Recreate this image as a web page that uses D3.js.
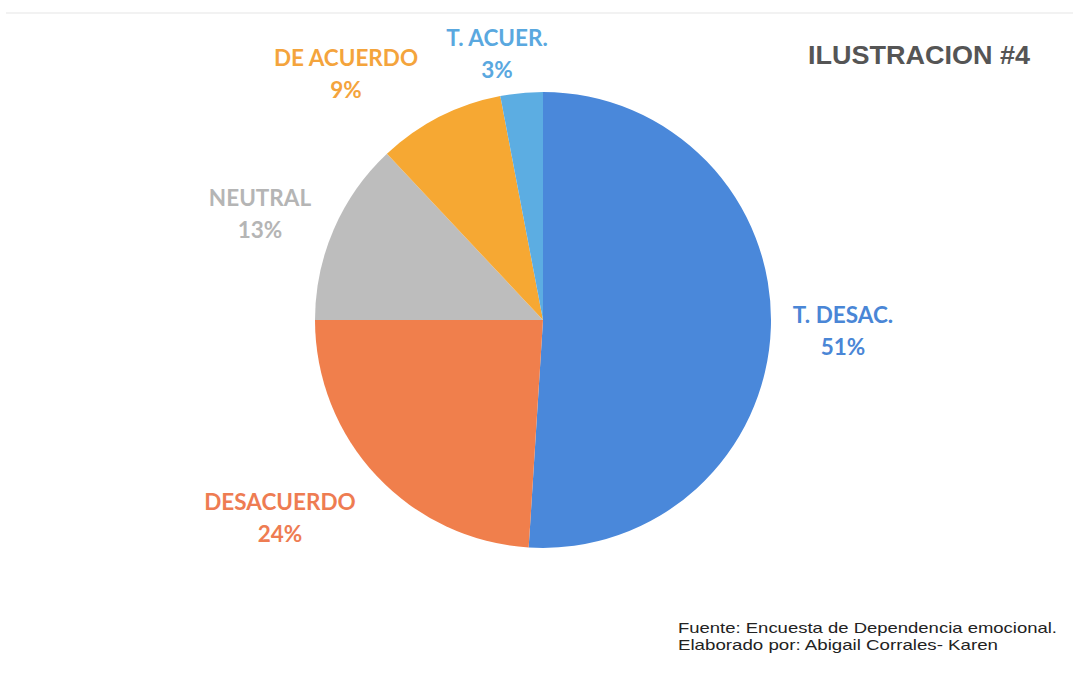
<!DOCTYPE html>
<html><head><meta charset="utf-8">
<script src="https://cdn.jsdelivr.net/npm/d3@7"></script>
<style>body{margin:0;background:#fff}svg{display:block}</style>
</head><body>
<svg id="c" width="1073" height="681"></svg>
<script>
const categories = ["T. DESAC.", "DESACUERDO", "NEUTRAL", "DE ACUERDO", "T. ACUER."];
const values = [51, 24, 13, 9, 3];
const colors = ["#4a88da", "#f07f4c", "#bdbdbd", "#f6a833", "#5cade2"];
const textColors = ["#4a86d6", "#ee7c52", "#b5b5b5", "#f4a43c", "#5aa8df"];
const labelPos = [[843, 315], [280, 502], [260, 198], [346, 58], [497, 38]];
const footerLines = ["Fuente: Encuesta de Dependencia emocional.", "Elaborado por: Abigail Corrales- Karen"];

const svg = d3.select("#c");
svg.append("line").attr("x1", 6).attr("x2", 1073).attr("y1", 13).attr("y2", 13)
  .attr("stroke", "#eeeeee").attr("stroke-width", 1.5);

const cx = 543, cy = 320, r = 228;
const pie = d3.pie().sort(null).value(d => d)(values);
const arc = d3.arc().innerRadius(0).outerRadius(r);
const g = svg.append("g").attr("transform", `translate(${cx},${cy})`);
g.selectAll("path").data(pie).join("path")
  .attr("d", arc).attr("fill", (d, i) => colors[i]);

const lab = svg.append("g").attr("font-family", "Lato, 'Open Sans', sans-serif")
  .attr("font-weight", "bold").attr("font-size", 22.5).attr("text-anchor", "middle");
categories.forEach((c, i) => {
  const t = lab.append("text").attr("x", labelPos[i][0]).attr("y", labelPos[i][1] + 8).attr("fill", textColors[i]);
  t.append("tspan").attr("x", labelPos[i][0]).text(c);
  t.append("tspan").attr("x", labelPos[i][0]).attr("dy", 32).text(values[i] + "%");
});

svg.append("text").attr("x", 808).attr("y", 64).attr("font-family", "Liberation Sans, Arial, sans-serif")
  .attr("font-weight", "bold").attr("font-size", 26).attr("fill", "#555")
  .attr("textLength", 222).attr("lengthAdjust", "spacingAndGlyphs").text("ILUSTRACION #4");

const foot = svg.append("g").attr("font-family", "Liberation Sans, Arial, sans-serif").attr("font-size", 15).attr("fill", "#222");
foot.append("text").attr("x", 678).attr("y", 633).attr("textLength", 379).attr("lengthAdjust", "spacingAndGlyphs").text(footerLines[0]);
foot.append("text").attr("x", 678).attr("y", 650).attr("textLength", 320).attr("lengthAdjust", "spacingAndGlyphs").text(footerLines[1]);
</script>
</body></html>
